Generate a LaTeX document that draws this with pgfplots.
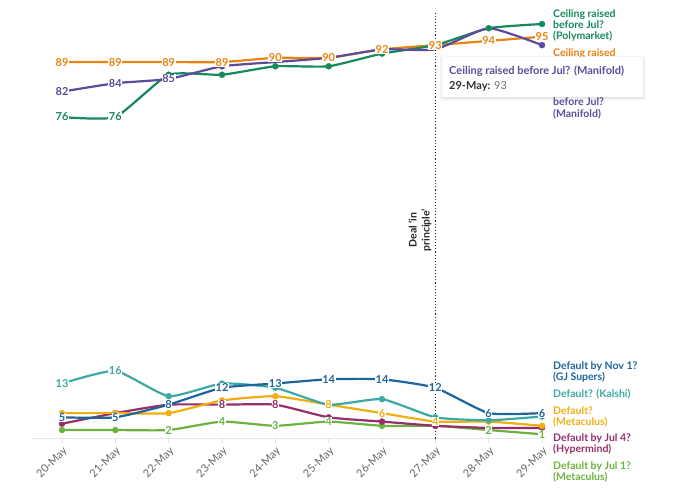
\documentclass[border=0pt]{standalone}
\usepackage{fontspec}
\setmainfont{Lato}[BoldFont={* Bold}]
\usepackage{pgfplots}
\pgfplotsset{compat=1.18}
\usetikzlibrary{shadows.blur}
\definecolor{cpoly}{HTML}{15895A}
\definecolor{cmeta}{HTML}{EA8410}
\definecolor{cmani}{HTML}{5E4A9C}
\definecolor{cgj}{HTML}{1D659D}
\definecolor{ckal}{HTML}{3CA9A4}
\definecolor{cdmeta}{HTML}{F0AE12}
\definecolor{chyp}{HTML}{972D6A}
\definecolor{cjul}{HTML}{6BB23E}
\pgfplotsset{
  ln/.style={smooth, tension=0.3, line width=2.2pt, color=#1, mark=none},
  dt/.style={only marks, mark=*, mark size=3pt, color=#1},
  lb/.style={only marks, mark=none, nodes near coords, point meta=explicit symbolic,
    nodes near coords style={anchor=center, fill=white, inner sep=0.6pt, text=#1,
      font=\bfseries\fontsize{11}{11}\selectfont}},
}
\newcommand{\lblfont}{\bfseries\fontsize{10.5}{11}\selectfont}
\begin{document}
\begin{tikzpicture}
\useasboundingbox (-32pt,-52.5pt) rectangle (648pt,438.5pt);
\begin{axis}[
  scale only axis, width=513pt, height=427.2pt,
  xmin=-0.5625, xmax=9.056, ymin=0, ymax=101,
  clip=false,
  axis x line*=bottom, axis y line=none,
  x axis line style={draw=black!10, line width=1pt},
  xtick={0,...,9},
  xticklabels={20-May,21-May,22-May,23-May,24-May,25-May,26-May,27-May,28-May,29-May},
  xticklabel style={rotate=45, anchor=north east, text=black!60, font=\fontsize{11}{12}\selectfont, inner sep=2pt},
  tick style={draw=black!12, line width=0.8pt}, major tick length=4pt, tick align=outside,
  ytick=\empty,
]
% dotted line
\draw[dotted, line width=1.1pt, black!85] (axis cs:7,0) -- (axis cs:7,101);
% lines
\addplot[ln=cmeta] coordinates {(0,89)(1,89)(2,89)(3,89)(4,90)(5,90)(6,92)(7,93)(8,94)(9,95)};
\addplot[ln=cpoly] coordinates {(0,76)(1,76)(2,86)(3,86)(4,88)(5,88)(6,91)(7,93)(8,97)(9,98)};
\addplot[ln=cmani] coordinates {(0,82)(1,84)(2,85)(3,88)(4,89)(5,90)(6,92)(7,92)(8,97)(9,93)};
\addplot[ln=cjul] coordinates {(0,2)(1,2)(2,2)(3,4)(4,3)(5,4)(6,3)(7,3)(8,2)(9,1)};
\addplot[ln=chyp] coordinates {(0,3.5)(1,6)(2,8)(3,8)(4,8)(5,5)(6,4)(7,3)(8,2.5)(9,2.5)};
\addplot[ln=cdmeta] coordinates {(0,6)(1,6)(2,6)(3,9)(4,10)(5,8)(6,6)(7,4)(8,4)(9,3)};
\addplot[ln=ckal] coordinates {(0,13)(1,16)(2,10)(3,13)(4,12)(5,8)(6,9.3)(7,5)(8,4.3)(9,5.2)};
\addplot[ln=cgj] coordinates {(0,5)(1,5)(2,8)(3,12)(4,13)(5,14)(6,14)(7,12)(8,6)(9,6)};
% dots
\addplot[dt=cpoly] coordinates {(2,86)(3,86)(4,88)(5,88)(6,91)(8,97)(9,98)};
\addplot[dt=cmani] coordinates {(3,88)(9,93)};
\addplot[dt=cjul] coordinates {(0,2)(1,2)(6,3)(7,3)};
\addplot[dt=chyp] coordinates {(0,3.5)(1,6)(2,8)(5,5)(6,4)(7,3)(9,2.5)};
\addplot[dt=cdmeta] coordinates {(0,6)(1,6)(2,6)(3,9)(4,10)(8,4)(9,3)};
\addplot[dt=ckal] coordinates {(2,10)(3,13)(4,12)(5,8)(6,9.3)(7,5)(8,4.3)(9,5.2)};
% labels
\addplot[lb=cmani] coordinates {(0,82)[82] (1,84)[84] (2,85)[85]};
\addplot[lb=cpoly] coordinates {(0,76)[76] (1,76)[76]};
\addplot[lb=cmeta] coordinates {(0,89)[89] (1,89)[89] (2,89)[89] (3,89)[89] (4,90)[90] (5,90)[90] (6,92)[92] (7,93)[93] (8,94)[94] (9,95)[95]};
\addplot[lb=ckal] coordinates {(0,13)[13] (1,16)[16]};
\addplot[lb=cjul] coordinates {(2,2)[2] (3,4)[4] (4,3)[3] (5,4)[4] (8,2)[2] (9,1)[1]};
\addplot[lb=chyp] coordinates {(3,8)[8] (4,8)[8]};
\addplot[lb=cdmeta] coordinates {(5,8)[8] (6,6)[6] (7,4)[4]};
\addplot[lb=cgj] coordinates {(0,5)[5] (1,5)[5] (2,8)[8] (3,12)[12] (4,13)[13] (5,14)[14] (6,14)[14] (7,12)[12] (8,6)[6] (9,6)[6]};
\end{axis}
% annotation
\node[rotate=90, align=center, text=black!85, font=\bfseries\fontsize{10.5}{13}\selectfont] at (388pt,208.5pt) {Deal ‘in\\principle’};
% right labels
\begin{scope}[every node/.style={anchor=west, align=left, font=\lblfont, inner sep=0pt}]
\node[text=cpoly] at (521pt,413pt) {Ceiling raised\\before Jul?\\(Polymarket)};
\node[text=cmeta] at (521pt,374.5pt) {Ceiling raised\\before Jul?\\(Metaculus)};
\node[text=cmani, font=\bfseries\fontsize{10.5}{11.5}\selectfont] at (521pt,336pt) {Ceiling raised\\before Jul?\\(Manifold)};
\node[text=cgj] at (521pt,66.5pt) {Default by Nov 1?\\(GJ Supers)};
\node[text=ckal] at (521pt,44.5pt) {Default? (Kalshi)};
\node[text=cdmeta] at (521pt,21.8pt) {Default?\\(Metaculus)};
\node[text=chyp] at (521pt,-5.8pt) {Default by Jul 4?\\(Hypermind)};
\node[text=cjul] at (521pt,-33.2pt) {Default by Jul 1?\\(Metaculus)};
\end{scope}
% tooltip
\path[fill=white, blur shadow={shadow xshift=0pt, shadow yshift=-1pt, shadow blur radius=3pt, shadow blur steps=6, shadow opacity=18}] (410pt,341.5pt) rectangle (611pt,381.5pt);
\node[anchor=west, inner sep=0pt, text=cmani, font=\bfseries\fontsize{11}{12}\selectfont] at (417pt,367.5pt) {Ceiling raised before Jul? (Manifold)};
\node[anchor=west, inner sep=0pt, font=\fontsize{11}{12}\selectfont] at (417pt,352.5pt) {\textcolor{black!80}{\bfseries 29-May:} \textcolor{black!55}{93}};
\end{tikzpicture}
\end{document}
